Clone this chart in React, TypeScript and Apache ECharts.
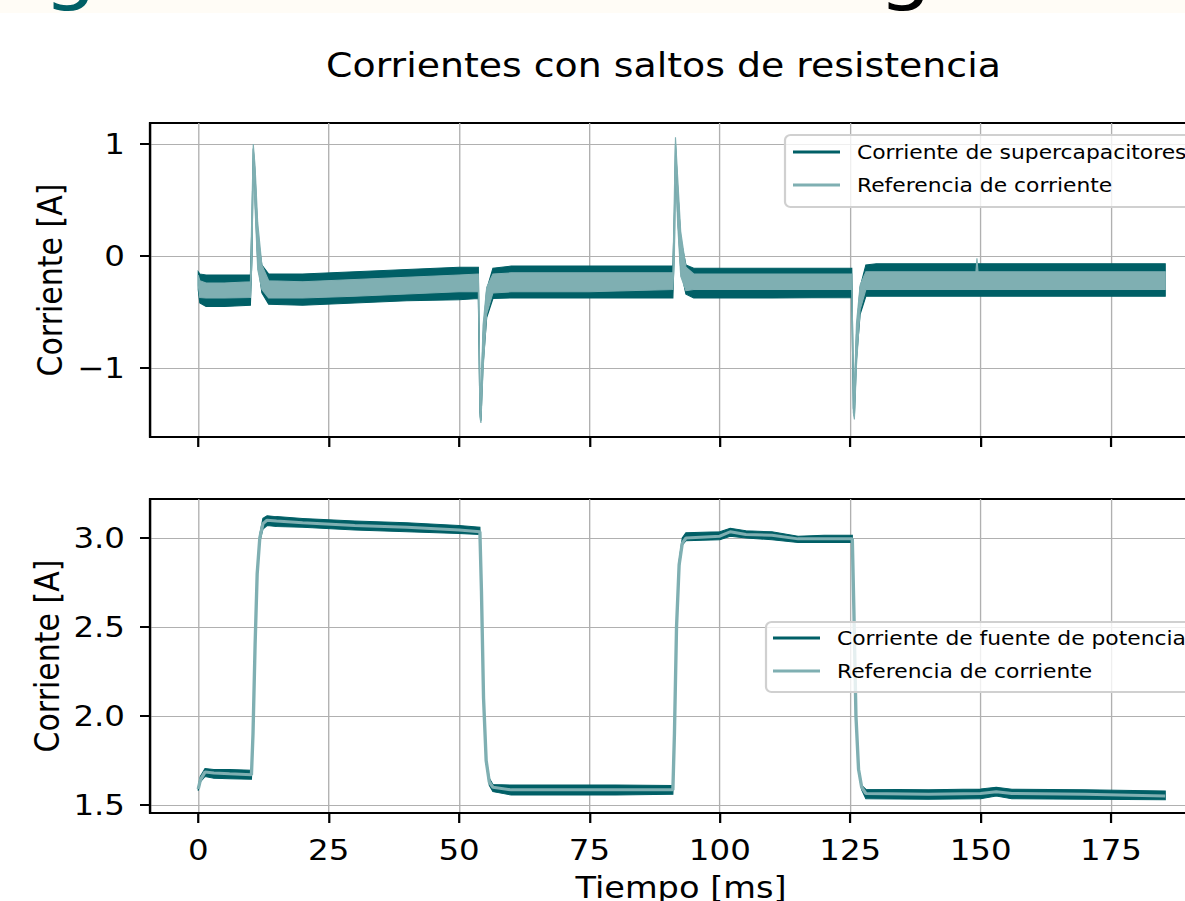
import React, { useEffect, useRef } from 'react';
import * as echarts from 'echarts';

// ---- tick labels ----
const xTicks = [0, 25, 50, 75, 100, 125, 150, 175];
const topYTicks = [-1, 0, 1];
const bottomYTicks = [1.5, 2.0, 2.5, 3.0];

// ---- top panel: supercapacitor current (envelope of the ripple) and reference ----
const scTime = [0, 0.3, 1.5, 5, 10.0, 10.3, 10.55, 10.9, 11.4, 12.2, 13.5, 20, 30, 40, 50, 53.7, 54.0, 54.2, 54.6, 55.3, 56.5, 60, 75, 91.0, 91.3, 91.5, 91.9, 92.5, 93.5, 95, 110, 125.3, 125.6, 125.8, 126.2, 126.9, 128, 130, 149.1, 149.3, 149.5, 165, 185.4];
const scHigh = [-0.14, -0.16, -0.17, -0.17, -0.17, 0.30, 0.96, 0.72, 0.18, -0.08, -0.16, -0.16, -0.14, -0.12, -0.10, -0.10, -1.20, -1.30, -0.72, -0.30, -0.11, -0.09, -0.09, -0.09, 0.40, 1.00, 0.62, 0.15, -0.08, -0.11, -0.11, -0.11, -1.18, -1.26, -0.70, -0.28, -0.08, -0.07, -0.07, -0.07, -0.07, -0.07, -0.07];
const scLow = [-0.30, -0.42, -0.45, -0.45, -0.44, 0.00, 0.88, 0.50, -0.05, -0.33, -0.43, -0.44, -0.42, -0.40, -0.39, -0.38, -1.40, -1.47, -0.98, -0.55, -0.38, -0.375, -0.375, -0.375, 0.10, 0.92, 0.38, -0.12, -0.34, -0.375, -0.375, -0.37, -1.36, -1.43, -0.92, -0.52, -0.36, -0.36, -0.36, -0.36, -0.36, -0.36, -0.36];
const scRefHigh = [-0.17, -0.22, -0.24, -0.24, -0.23, 0.45, 1.00, 0.80, 0.30, -0.08, -0.22, -0.23, -0.21, -0.19, -0.17, -0.16, -1.12, -1.24, -0.62, -0.28, -0.16, -0.15, -0.15, -0.15, 0.60, 1.06, 0.72, 0.22, -0.10, -0.16, -0.16, -0.16, -1.08, -1.20, -0.60, -0.26, -0.14, -0.14, -0.14, -0.02, -0.14, -0.14, -0.14];
const scRefLow = [-0.26, -0.37, -0.375, -0.375, -0.37, -0.05, 0.84, 0.42, -0.12, -0.30, -0.375, -0.375, -0.36, -0.34, -0.32, -0.32, -1.44, -1.49, -1.02, -0.52, -0.33, -0.32, -0.32, -0.30, 0.00, 0.88, 0.30, -0.18, -0.31, -0.30, -0.30, -0.30, -1.40, -1.46, -0.98, -0.48, -0.30, -0.30, -0.30, -0.30, -0.30, -0.30, -0.30];

// ---- bottom panel: power supply current (noise band) and reference ----
const pwTime = [0, 0.4, 1.3, 3, 6, 10.2, 10.5, 10.9, 11.3, 11.8, 12.4, 13.2, 15, 20, 30, 40, 50, 54.0, 54.3, 54.7, 55.2, 55.8, 56.5, 60, 70, 80, 91.0, 91.3, 91.7, 92.2, 92.8, 93.5, 100, 102, 105, 110, 115, 120, 125.4, 125.7, 126.1, 126.6, 127.2, 128, 140, 150, 153, 156, 170, 185.4];
const pwRef = [1.59, 1.64, 1.685, 1.68, 1.675, 1.67, 1.9, 2.4, 2.8, 3.0, 3.08, 3.10, 3.095, 3.085, 3.07, 3.06, 3.045, 3.035, 2.7, 2.1, 1.75, 1.63, 1.60, 1.585, 1.585, 1.585, 1.585, 1.9, 2.5, 2.85, 2.97, 3.0, 3.01, 3.035, 3.02, 3.015, 2.995, 2.995, 2.995, 2.6, 2.0, 1.7, 1.6, 1.565, 1.56, 1.565, 1.575, 1.565, 1.56, 1.55];
const pwHigh = [1.60, 1.66, 1.705, 1.70, 1.70, 1.695, 1.91, 2.41, 2.81, 3.02, 3.11, 3.125, 3.12, 3.11, 3.095, 3.085, 3.07, 3.06, 2.71, 2.11, 1.76, 1.65, 1.615, 1.612, 1.612, 1.612, 1.61, 1.91, 2.51, 2.87, 3.0, 3.03, 3.035, 3.055, 3.04, 3.035, 3.01, 3.015, 3.015, 2.61, 2.01, 1.71, 1.61, 1.588, 1.585, 1.59, 1.60, 1.588, 1.585, 1.578];
const pwLow = [1.58, 1.63, 1.66, 1.65, 1.648, 1.645, 1.89, 2.39, 2.79, 2.98, 3.05, 3.07, 3.065, 3.06, 3.045, 3.035, 3.025, 3.02, 2.69, 2.09, 1.74, 1.61, 1.575, 1.556, 1.556, 1.556, 1.56, 1.89, 2.49, 2.83, 2.96, 2.985, 2.99, 3.01, 3.0, 2.99, 2.975, 2.975, 2.975, 2.59, 1.99, 1.69, 1.585, 1.535, 1.532, 1.535, 1.55, 1.535, 1.532, 1.53];

const DARK = '#005f66';
const LIGHT = '#7fafb2';
const FONT = 'DejaVu Sans';
const S = 1.12; // horizontal stretch of the reference picture
const X = (px: number) => px / S;
const CW = 1185 / S;

// filled band between a low and a high curve, drawn through the axes' scales
function band(name: string, time: number[], low: number[], high: number[], idx: number, color: string, z: number) {
  return {
    type: 'custom', name, xAxisIndex: idx, yAxisIndex: idx, z, silent: true,
    data: time.map((t, i) => [t, low[i], high[i]]),
    encode: { x: 0, y: [1, 2] },
    renderItem: (params: any, api: any) => {
      if (params.dataIndex !== 0) return null;
      const top = time.map((t, i) => api.coord([t, high[i]]));
      const bot = time.map((t, i) => api.coord([t, low[i]])).reverse();
      return {
        type: 'polygon',
        shape: { points: top.concat(bot) },
        style: { fill: color, stroke: color, lineWidth: 1 },
      };
    },
  };
}

function xAxis(idx: number, labels: boolean) {
  return {
    type: 'value', gridIndex: idx, min: -9.25, max: 194.25,
    axisLine: { show: true, onZero: false, lineStyle: { color: '#000', width: 2 } },
    axisTick: { show: true, customValues: xTicks, length: 10, lineStyle: { color: '#000', width: 2 } },
    axisLabel: { show: labels, customValues: xTicks, color: '#000', fontSize: 29, fontFamily: FONT, margin: 22 },
    splitLine: { show: true, lineStyle: { color: '#b0b0b0', width: 1.2 } },
  };
}

function yAxis(idx: number, min: number, max: number, ticks: number[], fmt: (v: number) => string) {
  return {
    type: 'value', gridIndex: idx, min, max,
    axisLine: { show: true, onZero: false, lineStyle: { color: '#000', width: 2 } },
    axisTick: { show: true, customValues: ticks, length: X(10), lineStyle: { color: '#000', width: 2 } },
    axisLabel: { show: true, customValues: ticks, color: '#000', fontSize: 29, fontFamily: FONT, margin: X(25), formatter: fmt },
    splitLine: { show: true, lineStyle: { color: '#b0b0b0', width: 1.2 } },
  };
}

function txt(text: string, x: number, y: number, size: number, extra: any = {}) {
  return {
    type: 'text', x, y, z: 100, ...extra,
    style: {
      text, fontSize: size, fontFamily: FONT, fill: extra.fill || '#000',
      align: extra.align || 'left', verticalAlign: 'middle',
      textAlign: extra.align || 'left', textVerticalAlign: 'middle',
    },
  };
}

function legend(x0: number, y0: number, y1: number, lineX0: number, lineX1: number, textX: number, r1: number, r2: number, label1: string) {
  return [
    { type: 'rect', z: 90, shape: { x: X(x0), y: y0, width: 600, height: y1 - y0, r: 5 }, style: { fill: 'rgba(255,255,255,0.8)', stroke: '#d0d0d0', lineWidth: 2 } },
    { type: 'line', z: 95, shape: { x1: X(lineX0), y1: r1, x2: X(lineX1), y2: r1 }, style: { stroke: DARK, lineWidth: 3 } },
    { type: 'line', z: 95, shape: { x1: X(lineX0), y1: r2, x2: X(lineX1), y2: r2 }, style: { stroke: LIGHT, lineWidth: 3 } },
    txt(label1, X(textX), r1, 19.5),
    txt('Referencia de corriente', X(textX), r2, 19.5),
  ];
}

export default function App() {
  const ref = useRef<HTMLDivElement>(null);
  useEffect(() => {
    document.body.style.margin = '0';
    const chart = echarts.init(ref.current!, null, { renderer: 'svg', width: CW, height: 901 });
    const gridW = X(1211.4) - X(150);
    const option: any = {
      animation: false,
      backgroundColor: '#fff',
      grid: [
        { left: X(150), top: 123, width: gridW, height: 314, show: true, borderColor: '#000', borderWidth: 2, containLabel: false, outerBoundsMode: 'none' },
        { left: X(150), top: 499, width: gridW, height: 314, show: true, borderColor: '#000', borderWidth: 2, containLabel: false, outerBoundsMode: 'none' },
      ],
      xAxis: [xAxis(0, false), xAxis(1, true)],
      yAxis: [
        yAxis(0, -1.616, 1.1875, topYTicks, (v: number) => (v < 0 ? '\u2212' + Math.abs(v) : String(v))),
        yAxis(1, 1.455, 3.219, bottomYTicks, (v: number) => v.toFixed(1)),
      ],
      series: [
        band('Corriente de supercapacitores', scTime, scLow, scHigh, 0, DARK, 2),
        band('Referencia de corriente (sc)', scTime, scRefLow, scRefHigh, 0, LIGHT, 3),
        band('Corriente de fuente de potencia', pwTime, pwLow, pwHigh, 1, DARK, 2),
        {
          type: 'line', name: 'Referencia de corriente', xAxisIndex: 1, yAxisIndex: 1,
          data: pwTime.map((t, i) => [t, pwRef[i]]), symbol: 'none', silent: true, z: 3,
          lineStyle: { color: LIGHT, width: 3 },
        },
      ],
      graphic: [
        { type: 'rect', z: 80, shape: { x: 0, y: 0, width: CW, height: 13 }, style: { fill: '#fffcf6' } },
        txt('g', X(51) - 7, -31, 76, { fill: DARK }),
        txt('g', X(886) - 7, -31, 76, { fill: '#000' }),
        txt('Corrientes con saltos de resistencia', X(663.5), 65, 33.8, { align: 'center' }),
        txt('Corriente [A]', X(50.5), 280, 30, { align: 'center', rotation: Math.PI / 2 }),
        txt('Corriente [A]', X(47.5), 656, 30, { align: 'center', rotation: Math.PI / 2 }),
        txt('Tiempo [ms]', X(681), 888, 30, { align: 'center' }),
        ...legend(785, 135, 207, 793, 840, 857, 152, 185, 'Corriente de supercapacitores'),
        ...legend(766, 622, 692, 773, 820, 837, 638, 671, 'Corriente de fuente de potencia'),
      ],
    };
    chart.setOption(option);
    return () => chart.dispose();
  }, []);
  return (
    <div style={{ width: 1185, height: 901, overflow: 'hidden', position: 'relative', background: '#fff' }}>
      <div
        ref={ref}
        style={{ width: CW, height: 901, transform: `scaleX(${S})`, transformOrigin: '0 0' }}
      />
    </div>
  );
}
